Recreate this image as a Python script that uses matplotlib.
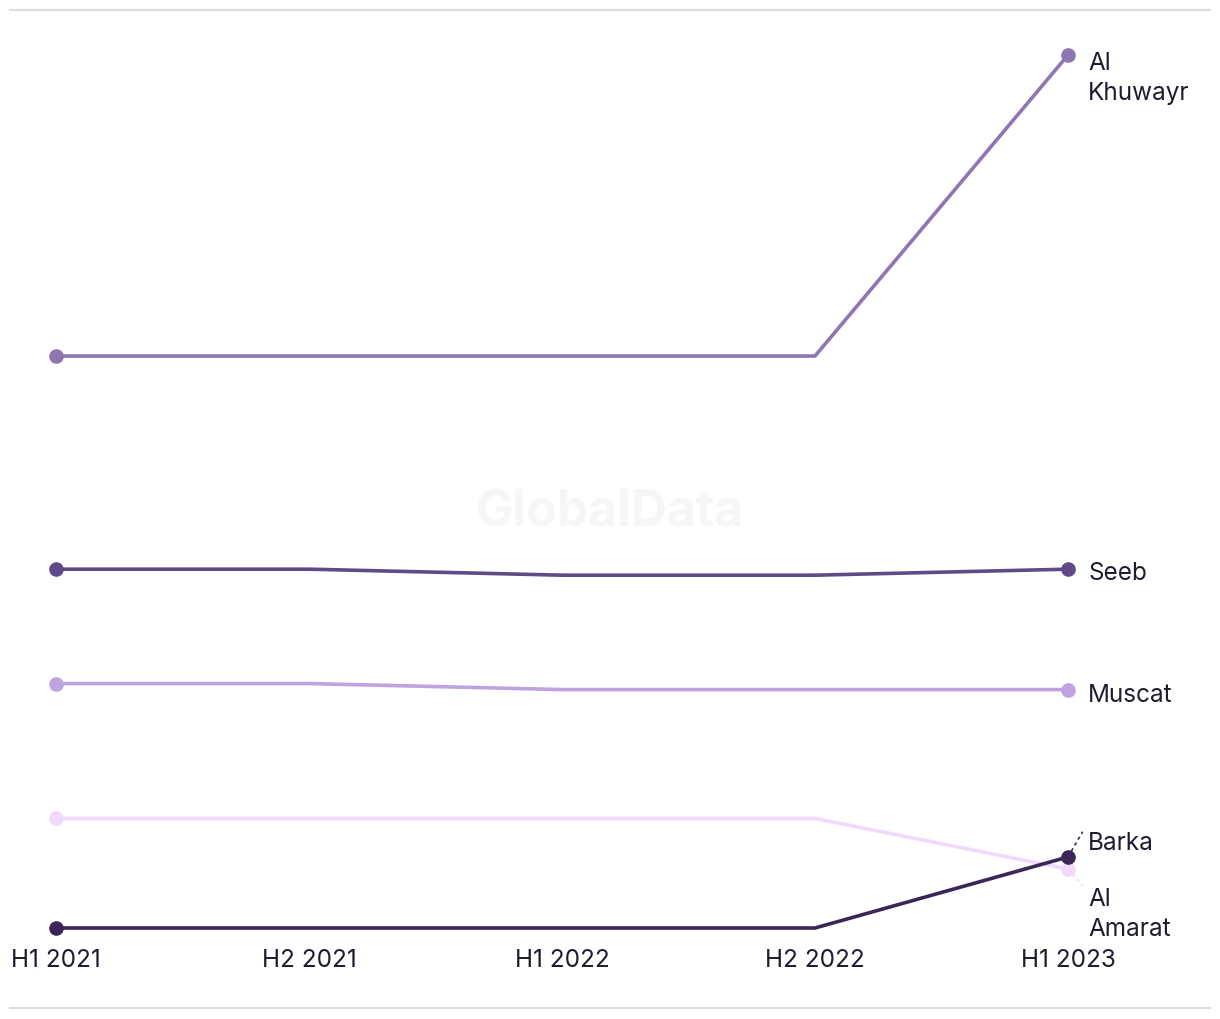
import matplotlib.pyplot as plt
from matplotlib.lines import Line2D

periods = ['H1 2021', 'H2 2021', 'H1 2022', 'H2 2022', 'H1 2023']

al_khuwayr = [105, 105, 105, 105, 155]
seeb = [69.6, 69.6, 68.6, 68.6, 69.6]
muscat = [50.6, 50.6, 49.6, 49.6, 49.6]
al_amarat = [28.2, 28.2, 28.2, 28.2, 19.8]
barka = [10, 10, 10, 10, 21.8]

series = [
    ('Al\nKhuwayr', al_khuwayr, '#8e75b4'),
    ('Seeb', seeb, '#5e4a86'),
    ('Muscat', muscat, '#bea2e1'),
    ('Al\nAmarat', al_amarat, '#f1d9fb'),
    ('Barka', barka, '#3b2659'),
]

plt.rcParams['font.family'] = ['Inter', 'DejaVu Sans']
txt_color = '#1e1c30'
fs = 17.5

W, H = 1220, 1020
fig = plt.figure(figsize=(W / 100, H / 100), dpi=100)
ax = fig.add_axes([56 / W, (H - 929) / H, 1012 / W, 873 / H])
ax.set_xlim(0, 4)
ax.set_ylim(10, 155)
ax.axis('off')

x = list(range(len(periods)))
for name, vals, col in series:
    ax.plot(x, vals, color=col, lw=2.6, solid_capstyle='round', zorder=3, clip_on=False)
    ax.plot([x[0], x[-1]], [vals[0], vals[-1]], 'o', color=col, ms=9.5, zorder=4, clip_on=False)

# end labels
lab_x = 4.08
ax.text(lab_x, al_khuwayr[-1] + 0.6, 'Al\nKhuwayr', va='top', ha='left',
        fontsize=fs, color=txt_color, linespacing=1.38, clip_on=False)
ax.text(lab_x, seeb[-1] - 0.6, 'Seeb', va='center', ha='left', fontsize=fs, color=txt_color)
ax.text(lab_x, muscat[-1] - 0.8, 'Muscat', va='center', ha='left', fontsize=fs, color=txt_color)
ax.text(lab_x, barka[-1] + 2.4, 'Barka', va='center', ha='left', fontsize=fs, color=txt_color)
ax.text(lab_x, al_amarat[-1] - 3.0, 'Al\nAmarat', va='top', ha='left',
        fontsize=fs, color=txt_color, linespacing=1.38)

# leader lines for the crowded labels
ax.plot([4, 4.058], [barka[-1], barka[-1] + 4.2], ls=(0, (2, 2)), color='#3b2659', lw=1.2,
        zorder=2, clip_on=False)
ax.plot([4, 4.058], [al_amarat[-1], al_amarat[-1] - 2.8], ls=(0, (2, 2)), color='#f1d9fb', lw=1.2,
        zorder=2, clip_on=False)

# period labels
for xi, p in zip(x, periods):
    ax.text(xi, 10 - 5.3, p, ha='center', va='center', fontsize=fs, color=txt_color)

# watermark
fig.text(610 / W, 1 - 513 / H, 'GlobalData', ha='center', va='center', fontsize=36,
         fontweight='bold', color='#f6f6f6', zorder=0)

# top and bottom rules
for yp in (11, 1009):
    fig.add_artist(Line2D([10 / W, 1210 / W], [1 - yp / H, 1 - yp / H], color='#dcdcdc', lw=1.5))

fig.savefig('out.png', dpi=100)
